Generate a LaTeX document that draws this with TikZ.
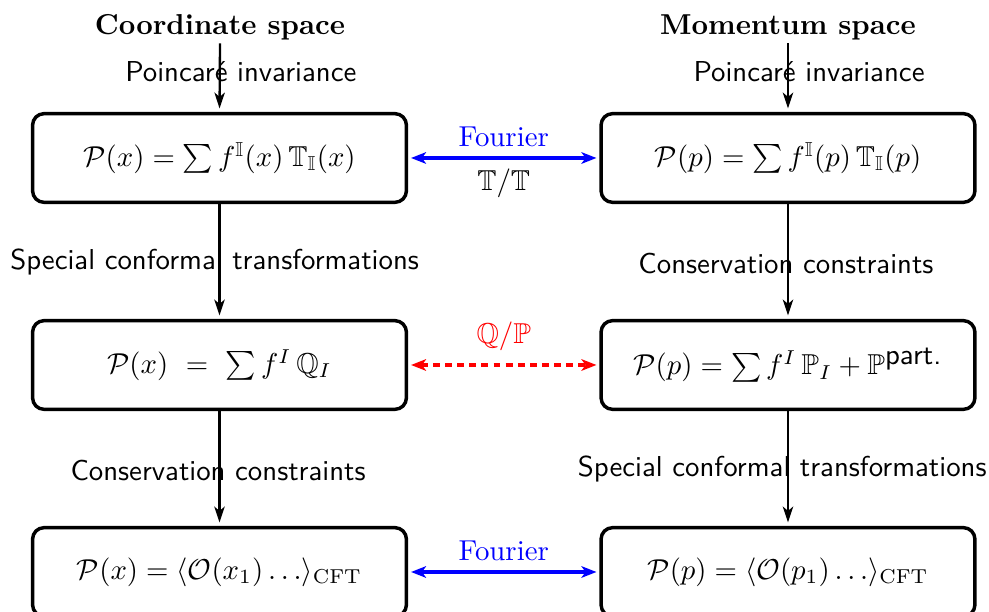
\documentclass[tikz,border=0pt]{standalone}
\usepackage{amssymb}
\usetikzlibrary{arrows.meta}
\begin{document}
\begin{tikzpicture}[x=0.3472pt,y=-0.3472pt,
  box/.style={draw, line width=1.2pt, rounded corners=4pt, minimum width=129.8pt, minimum height=30.8pt, inner sep=0pt},
  title/.style={font=\bfseries, inner sep=1pt},
  varrow/.style={-{Stealth[length=5.5pt,width=3.6pt,inset=1.5pt]}, line width=0.8pt, shorten >=1.2pt},
  harrow/.style={{Stealth[length=5.2pt,width=4pt,inset=1.4pt]}-{Stealth[length=5.2pt,width=4pt,inset=1.4pt]}, line width=1.15pt, shorten >=1pt, shorten <=1pt},
  lab/.style={font=\sffamily},
  fourier/.style={blue},
  qp/.style={red, dash pattern=on 2.4pt off 1.8pt}]
\useasboundingbox (0,0) rectangle (989,612);
\node[title] (ct) at (220,27) {Coordinate space};
\node[title] (mt) at (788,27) {Momentum space};
\node[box] (x1) at (219.5,158) {$\mathcal{P}(x) = \sum f^{\mathbb{I}}(x)\,\mathbb{T}_{\mathbb{I}}(x)$};
\node[box] (p1) at (788,158) {$\mathcal{P}(p) = \sum f^{\mathbb{I}}(p)\,\mathbb{T}_{\mathbb{I}}(p)$};
\node[box] (x2) at (219.5,365) {$\mathcal{P}(x)\ =\ \sum f^{I}\,\mathbb{Q}_{I}$};
\node[box] (p2) at (788,365) {$\mathcal{P}(p) = \sum f^{I}\,\mathbb{P}_{I} + \mathbb{P}^{\textsf{part.}}$};
\node[box] (x3) at (219.5,572) {$\mathcal{P}(x) = \langle\mathcal{O}(x_1)\dots\rangle_{\mathrm{CFT}}$};
\node[box] (p3) at (788,572) {$\mathcal{P}(p) = \langle\mathcal{O}(p_1)\dots\rangle_{\mathrm{CFT}}$};
% vertical arrows
\draw[varrow] (ct.south) -- node[lab, pos=0.42, xshift=7.3pt] {Poincaré invariance} (x1.north);
\draw[varrow] (mt.south) -- node[lab, pos=0.42, xshift=7.3pt] {Poincaré invariance} (p1.north);
\draw[varrow] (x1.south) -- node[lab, pos=0.5, xshift=-1.7pt] {Special conformal transformations} (x2.north);
\draw[varrow] (p1.south) -- node[lab, pos=0.52, xshift=-0.7pt] {Conservation constraints} (p2.north);
\draw[varrow] (x2.south) -- node[lab, pos=0.52, xshift=-0.5pt] {Conservation constraints} (x3.north);
\draw[varrow] (p2.south) -- node[lab, pos=0.5, xshift=-2pt] {Special conformal transformations} (p3.north);
% horizontal arrows
\draw[harrow, fourier] (x1.east) -- node[above] {Fourier} node[below, text=black] {$\mathbb{T}/\mathbb{T}$} (p1.west);
\draw[harrow, qp] (x2.east) -- node[above, yshift=1pt] {$\mathbb{Q}/\mathbb{P}$} (p2.west);
\draw[harrow, fourier] (x3.east) -- node[above] {Fourier} (p3.west);
\end{tikzpicture}
\end{document}
